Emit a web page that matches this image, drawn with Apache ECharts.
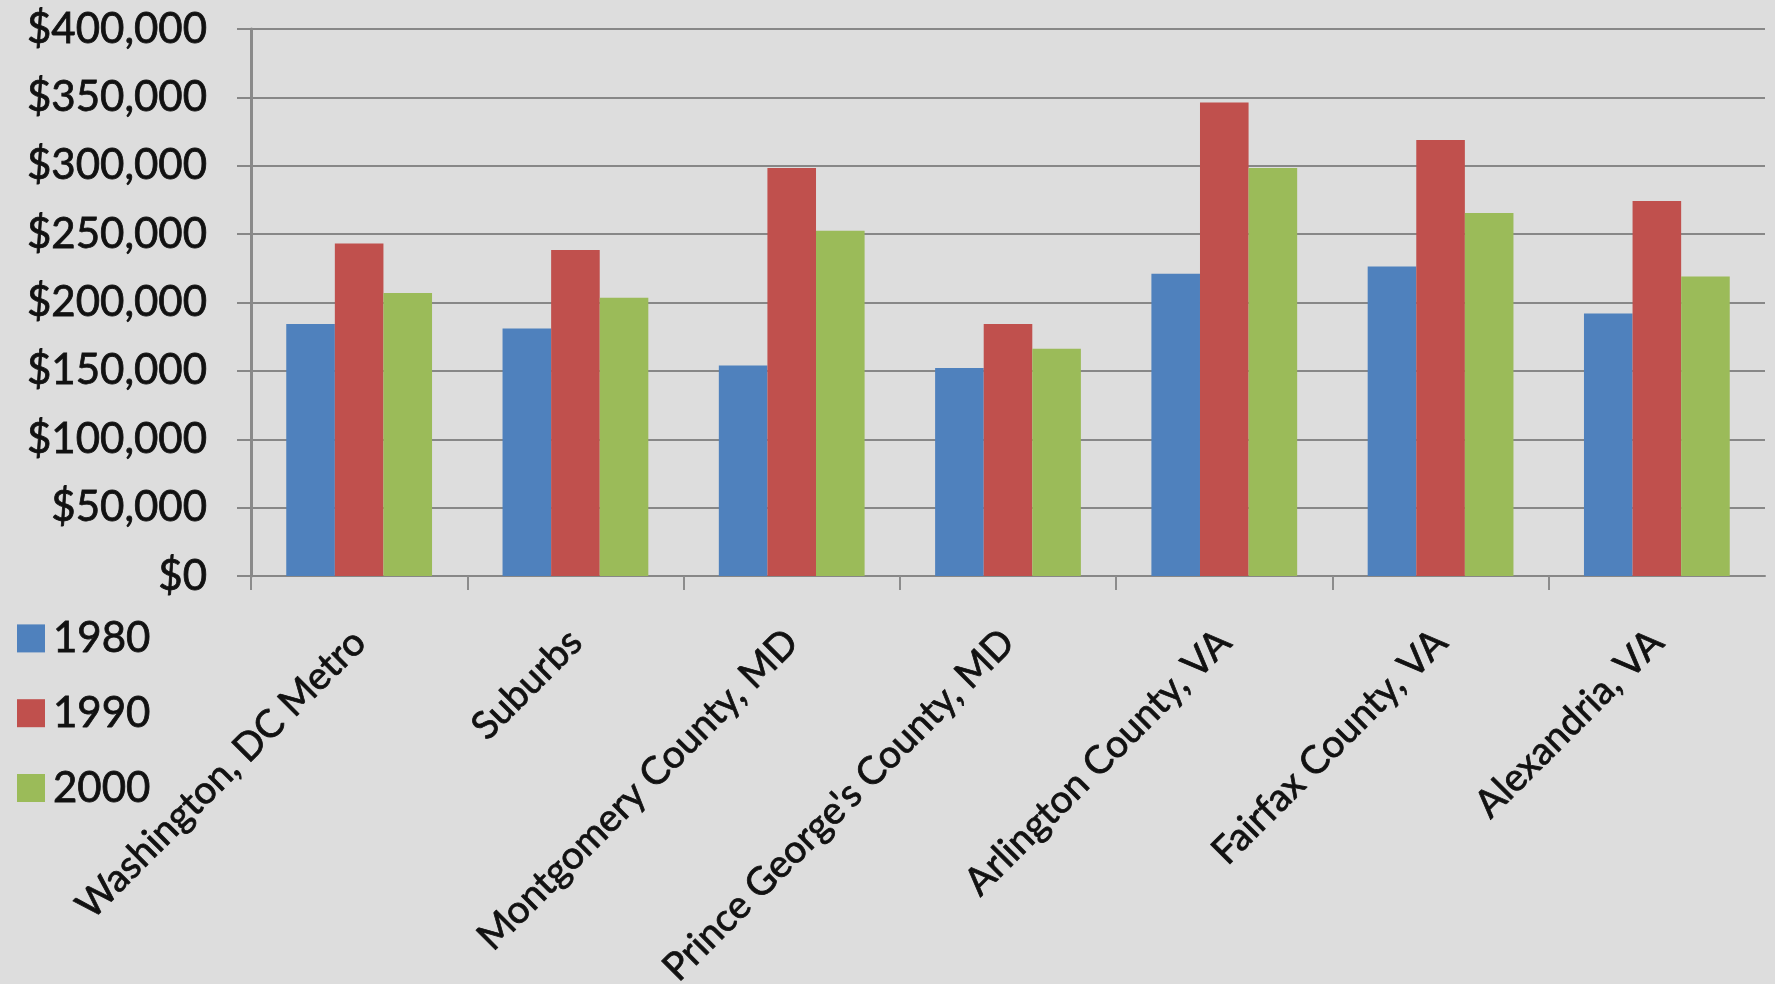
<!DOCTYPE html>
<html>
<head>
<meta charset="utf-8">
<title>Median home values</title>
<script src="https://cdn.jsdelivr.net/npm/echarts@6/dist/echarts.min.js"></script>
<style>
  html, body { margin: 0; padding: 0; background: #dddddd; }
  #chart { width: 1775px; height: 984px; }
</style>
</head>
<body>
<div id="chart"></div>
<script>
// Areas compared
const categories = [
  'Washington, DC Metro',
  'Suburbs',
  'Montgomery County, MD',
  "Prince George's County, MD",
  'Arlington County, VA',
  'Fairfax County, VA',
  'Alexandria, VA'
];

// Median home value by census year
const values1980 = [184300, 181000, 154000, 152100, 221000, 226300, 191900];
const values1990 = [243100, 238400, 298300, 184300, 346200, 318800, 274200];
const values2000 = [207000, 203400, 252400, 166100, 298300, 265500, 219100];

const seriesNames = ['1980', '1990', '2000'];
const seriesColors = ['#4f81bd', '#c0504d', '#9bbb59'];

const FONT = 'Lato';
const INK = '#111111';
const chart = echarts.init(document.getElementById('chart'), null, { renderer: 'canvas' });

const money = v => '$' + v.toLocaleString('en-US');

// slightly heavier strokes for all text
const heavy = { textBorderColor: INK, textBorderWidth: 0.8 };

// boundaries between categories: one tick at the left of each group, none at the far right
const boundaries = categories.map(() => '').concat(['']);

chart.setOption({
  backgroundColor: '#dddddd',
  animation: false,
  textStyle: { fontFamily: FONT, color: INK },
  grid: {
    left: 251, right: 10, top: 29, bottom: 408,
    containLabel: false,
    outerBoundsMode: 'none'
  },
  legend: {
    orient: 'vertical',
    left: 12,
    top: 612,
    itemWidth: 28,
    itemHeight: 28,
    itemGap: 32,
    icon: 'rect',
    textStyle: Object.assign({ fontFamily: FONT, fontSize: 42, color: INK, padding: [0, 0, 0, 3] }, heavy),
    data: seriesNames
  },
  xAxis: [
    {
      type: 'category',
      position: 'bottom',
      data: categories,
      boundaryGap: true,
      axisLine: { show: true, lineStyle: { color: '#878787', width: 2 } },
      axisTick: { show: false },
      axisLabel: Object.assign({
        rotate: 45,
        interval: 0,
        margin: 60,
        fontFamily: FONT,
        fontSize: 38.5,
        color: INK
      }, heavy)
    },
    {
      type: 'category',
      position: 'bottom',
      data: boundaries,
      boundaryGap: false,
      axisLine: { show: false },
      axisLabel: { show: false },
      splitLine: { show: false },
      axisPointer: { show: false },
      axisTick: {
        show: true,
        length: 14,
        interval: (i) => i < categories.length,
        lineStyle: { color: '#8c8c8c', width: 2 }
      }
    }
  ],
  yAxis: {
    type: 'value',
    min: 0,
    max: 400000,
    interval: 50000,
    axisLine: { show: true, lineStyle: { color: '#8a8a8a', width: 3 } },
    axisTick: { show: true, length: 14, lineStyle: { color: '#878787', width: 2 } },
    splitLine: { show: true, lineStyle: { color: '#878787', width: 2 } },
    axisLabel: Object.assign({
      margin: 44,
      fontFamily: FONT,
      fontSize: 42,
      color: INK,
      formatter: money
    }, heavy)
  },
  series: [
    { name: seriesNames[0], type: 'bar', data: values1980, itemStyle: { color: seriesColors[0] }, barGap: '0%', barCategoryGap: '32.6%' },
    { name: seriesNames[1], type: 'bar', data: values1990, itemStyle: { color: seriesColors[1] }, barGap: '0%', barCategoryGap: '32.6%' },
    { name: seriesNames[2], type: 'bar', data: values2000, itemStyle: { color: seriesColors[2] }, barGap: '0%', barCategoryGap: '32.6%' }
  ]
});
</script>
</body>
</html>
